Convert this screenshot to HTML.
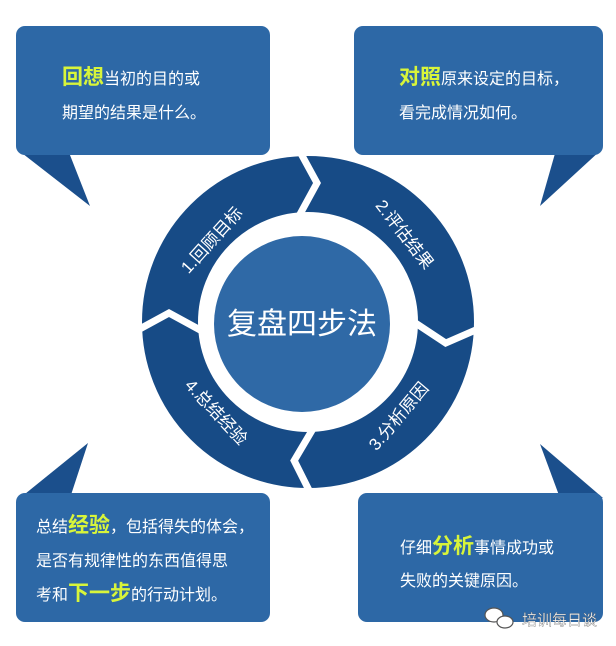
<!DOCTYPE html>
<html><head><meta charset="utf-8"><style>
html,body{margin:0;padding:0;background:#fff;}
svg{display:block;}
text{font-family:"Liberation Sans","Noto Sans CJK SC",sans-serif;}
</style></head><body>
<svg width="616" height="646" viewBox="0 0 616 646">
<rect width="616" height="646" fill="#fff"/>
<polygon points="18,150 68,150 90,206" fill="#1b4f8c"/>
<polygon points="556,150 601,150 540,206" fill="#1b4f8c"/>
<polygon points="20,498 70,498 88,443" fill="#1b4f8c"/>
<polygon points="560,498 603,498 540,444" fill="#1b4f8c"/>
<rect x="16" y="26" width="254" height="129" rx="9" fill="#2d68a6"/>
<rect x="354" y="26" width="249" height="129" rx="9" fill="#2d68a6"/>
<rect x="16" y="493" width="254" height="129" rx="9" fill="#2d68a6"/>
<rect x="358" y="493" width="245" height="129" rx="9" fill="#2d68a6"/>
<circle cx="308" cy="322" r="138" fill="none" stroke="#174b86" stroke-width="56"/>
<g stroke="#fff" stroke-width="7" fill="none" stroke-linejoin="miter">
<polyline transform="translate(308,322) rotate(-90)" points="106,-9 139,9 172,-9"/>
<polyline transform="translate(308,322) rotate(5)" points="106,-9 139,9 172,-9"/>
<polyline transform="translate(308,322) rotate(92)" points="106,-9 139,9 172,-9"/>
<polyline transform="translate(308,322) rotate(180)" points="106,-9 139,9 172,-9"/>
</g>
<circle cx="302" cy="324" r="88" fill="#2f69a6"/>
<text x="302" y="334" text-anchor="middle" font-size="30" fill="#fff">复盘四步法</text>
<g fill="#fff" font-size="17">
<text transform="translate(216,244) rotate(-48)" text-anchor="middle">1.回顾目标</text>
<text transform="translate(400,238) rotate(52)" text-anchor="middle">2.评估结果</text>
<text transform="translate(403,420) rotate(-50)" text-anchor="middle">3.分析原因</text>
<text transform="translate(212,416) rotate(47)" text-anchor="middle">4.总结经验</text>
</g>
<g fill="#fff" font-size="16">
<text x="62" y="84"><tspan fill="#d8f53a" font-size="21" font-weight="bold">回想</tspan>当初的目的或</text>
<text x="62" y="118">期望的结果是什么。</text>
<text x="399" y="84"><tspan fill="#d8f53a" font-size="21" font-weight="bold">对照</tspan>原来设定的目标，</text>
<text x="399" y="118">看完成情况如何。</text>
<text x="36" y="532">总结<tspan fill="#d8f53a" font-size="21" font-weight="bold">经验</tspan>，包括得失的体会，</text>
<text x="36" y="566">是否有规律性的东西值得思</text>
<text x="36" y="600">考和<tspan fill="#d8f53a" font-size="21" font-weight="bold">下一步</tspan>的行动计划。</text>
<text x="400" y="553">仔细<tspan fill="#d8f53a" font-size="21" font-weight="bold">分析</tspan>事情成功或</text>
<text x="400" y="586">失败的关键原因。</text>
<text x="522" y="625" font-size="15" stroke="#555" stroke-width="0.3">培训每日谈</text>
</g>
<g fill="#fff" stroke="#555" stroke-width="1.2">
<ellipse cx="494" cy="615" rx="9" ry="7"/>
<ellipse cx="505" cy="622" rx="8" ry="6"/>
</g>
</svg>
</body></html>
